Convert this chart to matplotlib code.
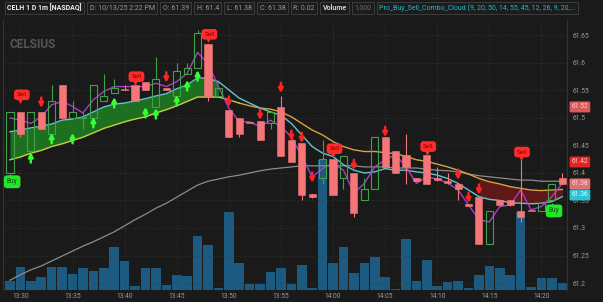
import numpy as np
import matplotlib.pyplot as plt
from matplotlib.patches import Rectangle

plt.rcParams['font.family'] = ['Roboto', 'DejaVu Sans']

# one-minute bars 13:29 .. 14:22
opens = [61.40, 61.51, 61.44, 61.51, 61.47, 61.56, 61.50, 61.50, 61.50, 61.53,
         61.545, 61.55, 61.56, 61.565, 61.52, 61.555, 61.54, 61.58, 61.59, 61.635,
         61.54, 61.515, 61.50, 61.49, 61.495, 61.49, 61.52, 61.46, 61.455, 61.362,
         61.39, 61.425, 61.39, 61.40, 61.35, 61.37, 61.465, 61.44, 61.433, 61.39,
         61.433, 61.39, 61.386, 61.38, 61.343, 61.357, 61.27, 61.35, 61.35, 61.33,
         61.333, 61.33, 61.35, 61.39]
highs = [61.51, 61.51, 61.51, 61.51, 61.56, 61.56, 61.53, 61.51, 61.56, 61.58,
         61.57, 61.56, 61.56, 61.565, 61.61, 61.555, 61.60, 61.60, 61.66, 61.635,
         61.555, 61.515, 61.50, 61.49, 61.495, 61.51, 61.54, 61.46, 61.455, 61.362,
         61.46, 61.425, 61.43, 61.40, 61.39, 61.465, 61.465, 61.44, 61.47, 61.39,
         61.433, 61.41, 61.40, 61.38, 61.343, 61.357, 61.33, 61.35, 61.35, 61.43,
         61.333, 61.345, 61.38, 61.40]
lows = [61.40, 61.465, 61.43, 61.48, 61.46, 61.50, 61.50, 61.48, 61.50, 61.53,
        61.545, 61.55, 61.53, 61.55, 61.52, 61.55, 61.54, 61.58, 61.59, 61.53,
        61.54, 61.465, 61.465, 61.49, 61.46, 61.48, 61.43, 61.42, 61.35, 61.355,
        61.38, 61.36, 61.37, 61.32, 61.35, 61.37, 61.41, 61.40, 61.38, 61.385,
        61.38, 61.385, 61.38, 61.35, 61.34, 61.27, 61.27, 61.34, 61.34, 61.31,
        61.33, 61.33, 61.35, 61.38]
closes = [61.51, 61.47, 61.51, 61.48, 61.53, 61.50, 61.51, 61.502, 61.56, 61.54,
          61.555, 61.55, 61.53, 61.55, 61.57, 61.55, 61.585, 61.59, 61.655, 61.54,
          61.555, 61.465, 61.47, 61.49, 61.46, 61.51, 61.43, 61.42, 61.36, 61.356,
          61.425, 61.36, 61.43, 61.327, 61.37, 61.465, 61.41, 61.40, 61.41, 61.385,
          61.38, 61.388, 61.382, 61.37, 61.34, 61.27, 61.33, 61.342, 61.342, 61.32,
          61.33, 61.345, 61.38, 61.38]
volumes = [1400, 3400, 1400, 2000, 3400, 3400, 2400, 3250, 2850, 3250,
           6500, 4350, 600, 3250, 3250, 750, 2250, 2150, 8150, 6700,
           250, 11650, 4100, 950, 950, 2700, 3250, 850, 3700, 300,
           19500, 4100, 6400, 2500, 4100, 4950, 2000, 200, 7600, 1350,
           4500, 600, 1150, 1350, 350, 2250, 3600, 3300, 2250, 11700,
           500, 1750, 1750, 1000]

fast_line = [61.500, 61.496, 61.490, 61.502, 61.524, 61.530, 61.521, 61.509, 61.533, 61.548,
             61.557, 61.557, 61.557, 61.557, 61.563, 61.557, 61.566, 61.581, 61.619, 61.599,
             61.557, 61.518, 61.493, 61.493, 61.484, 61.496, 61.484, 61.466, 61.430, 61.393,
             61.408, 61.418, 61.405, 61.363, 61.381, 61.411, 61.424, 61.433, 61.411, 61.381,
             61.393, 61.389, 61.382, 61.369, 61.342, 61.315, 61.311, 61.339, 61.342, 61.369,
             61.333, 61.339, 61.357, 61.381]
cyan_line = [61.475, 61.478, 61.482, 61.485, 61.489, 61.496, 61.498, 61.502, 61.511, 61.520,
             61.525, 61.527, 61.531, 61.535, 61.540, 61.544, 61.553, 61.560, 61.573, 61.572,
             61.566, 61.551, 61.536, 61.527, 61.518, 61.511, 61.505, 61.490, 61.469, 61.448,
             61.436, 61.430, 61.415, 61.405, 61.400, 61.402, 61.408, 61.405, 61.405, 61.402,
             61.400, 61.396, 61.390, 61.381, 61.369, 61.357, 61.352, 61.350, 61.346, 61.345,
             61.344, 61.345, 61.348, 61.357]
slow_line = [61.424, 61.429, 61.436, 61.441, 61.448, 61.453, 61.459, 61.465, 61.473, 61.481,
             61.487, 61.493, 61.498, 61.502, 61.509, 61.515, 61.522, 61.530, 61.538, 61.538,
             61.538, 61.533, 61.527, 61.522, 61.518, 61.516, 61.511, 61.502, 61.490, 61.478,
             61.469, 61.457, 61.448, 61.442, 61.439, 61.439, 61.437, 61.435, 61.430, 61.424,
             61.421, 61.416, 61.411, 61.405, 61.398, 61.390, 61.384, 61.380, 61.375, 61.372,
             61.369, 61.368, 61.369, 61.370]
gray_line = [61.205, 61.215, 61.224, 61.231, 61.240, 61.249, 61.258, 61.267, 61.275, 61.284,
             61.293, 61.304, 61.315, 61.325, 61.336, 61.345, 61.356, 61.367, 61.378, 61.385,
             61.389, 61.393, 61.396, 61.400, 61.404, 61.407, 61.409, 61.411, 61.413, 61.413,
             61.413, 61.413, 61.413, 61.413, 61.411, 61.411, 61.411, 61.409, 61.409, 61.409,
             61.407, 61.405, 61.404, 61.402, 61.398, 61.395, 61.393, 61.391, 61.389, 61.387,
             61.387, 61.385, 61.385, 61.385]

up_idx = [2, 4, 6, 8, 10, 13, 14, 16, 17, 18]
up_tip = [61.438, 61.473, 61.473, 61.502, 61.538, 61.520, 61.518, 61.542, 61.569, 61.587]
down_idx = [3, 15, 21, 24, 26, 27, 28, 29, 33, 36, 43, 44, 45]
down_tip = [61.518, 61.564, 61.520, 61.496, 61.545, 61.458, 61.454, 61.382, 61.405, 61.465,
            61.387, 61.345, 61.360]
sell_idx = [1, 12, 19, 31, 40, 49]
sell_y = [61.542, 61.575, 61.652, 61.444, 61.448, 61.438]
buy_idx = [0, 52]
buy_y = [61.384, 61.331]

tick_idx = [1, 6, 11, 16, 21, 26, 31, 36, 41, 46, 51]
tick_labels = ['13:30', '13:35', '13:40', '13:45', '13:50', '13:55',
               '14:00', '14:05', '14:10', '14:15', '14:20']
price_ticks = [61.2, 61.25, 61.3, 61.35, 61.4, 61.45, 61.5, 61.55, 61.6, 61.65]
price_tick_labels = ['61.2', '61.25', '61.3', '61.35', '61.4', '61.45',
                     '61.5', '61.55', '61.6', '61.65']
level_vals = [61.52, 61.42, 61.38, 61.36]
level_colors = ['#d85a5a', '#e42222', '#e07272', '#2bc3d6']
level_text = ['#ffd0d0', '#ffd0d0', '#ffd8d8', '#d8ffff']

header_items = ['CELH 1 D 1m [NASDAQ]', 'D: 10/13/25 2:22 PM', 'O: 61.39', 'H: 61.4',
                'L: 61.38', 'C: 61.38', 'R: 0.02', 'Volume', '1,000',
                'Pro_Buy_Sell_Combo_Cloud (9, 20, 50, 14, 55, 45, 12, 26, 9, 20,...']
header_colors = ['#f2f2f2', '#9a9a9a', '#9a9a9a', '#9a9a9a', '#9a9a9a', '#9a9a9a',
                 '#9a9a9a', '#d0d0d0', '#6a6a6a', '#22b8c8']
header_weights = ['bold', 'normal', 'normal', 'normal', 'normal', 'normal', 'normal',
                  'bold', 'normal', 'normal']

bg = '#1a1a1a'
green = '#3fa24a'
pink = '#f47678'
x = np.arange(len(opens))

fig = plt.figure(figsize=(6.03, 3.02), dpi=100)
fig.patch.set_facecolor(bg)
ax = fig.add_axes([3 / 603, 12 / 302, 564 / 603, 270 / 302])
axv = ax.twinx()
axv.set_zorder(0)
ax.set_zorder(1)
ax.patch.set_visible(False)
axv.patch.set_visible(False)

# volume underneath
axv.bar(x, volumes, width=0.92, color='#1d5a80', linewidth=0)
axv.set_ylim(0, 40500)
axv.set_yticks([])
for s in axv.spines.values():
    s.set_visible(False)

# clouds
xs = x.astype(float)
ax.fill_between(xs[:21], cyan_line[:21], slow_line[:21], color='#1f7a22', alpha=0.9, lw=0)
ax.fill_between(xs[45:], cyan_line[45:], slow_line[45:], color='#621818', alpha=0.95, lw=0)

ax.plot(x, gray_line, color='#8c8c8c', lw=0.9)
ax.plot(x[:23], slow_line[:23], color='#c6cc3e', lw=1.0)
ax.plot(x[22:], slow_line[22:], color='#d9a33e', lw=1.0)
ax.plot(x, cyan_line, color='#62c4cc', lw=1.0)
ax.plot(x, fast_line, color='#ab3cc8', lw=1.0)

# candles
w = 0.68
for i in x:
    o, h, l, c = opens[i], highs[i], lows[i], closes[i]
    if c > o:
        ax.vlines(i, c, h, color=green, lw=0.8, zorder=4)
        ax.vlines(i, l, o, color=green, lw=0.8, zorder=4)
        ax.add_patch(Rectangle((i - w / 2, o), w, c - o, fill=False, ec=green, lw=0.8, zorder=4))
    else:
        ax.vlines(i, l, h, color=pink, lw=0.8, zorder=4)
        ax.add_patch(Rectangle((i - w / 2, c), w, max(o - c, 0.0018), fc=pink, ec=pink,
                               lw=0.4, zorder=4))

for i, t in zip(up_idx, up_tip):
    ax.annotate('', xy=(i, t), xytext=(i, t - 0.019),
                arrowprops=dict(arrowstyle='-|>', color='#33ff33', lw=1.8,
                                mutation_scale=6.5, shrinkA=0, shrinkB=0), zorder=5)
for i, t in zip(down_idx, down_tip):
    ax.annotate('', xy=(i, t), xytext=(i, t + 0.019),
                arrowprops=dict(arrowstyle='-|>', color='#ff2222', lw=1.8,
                                mutation_scale=6.5, shrinkA=0, shrinkB=0), zorder=5)

for i, yv in zip(sell_idx, sell_y):
    ax.plot(i, yv - 0.011, marker='v', ms=3.5, color='#ff2a2a', mec='none', zorder=6)
    ax.text(i - 0.35, yv, 'Sell', ha='left', va='center', fontsize=4.5, color='#7a0000', zorder=7,
            bbox=dict(boxstyle='round,pad=0.45,rounding_size=0.5', fc='#ff2a2a', ec='none'))
for i, yv in zip(buy_idx, buy_y):
    ax.plot(i, yv + 0.011, marker='^', ms=3.5, color='#22e62a', mec='none', zorder=6)
    ax.text(i - 0.3, yv, 'Buy', ha='left', va='center', fontsize=4.7, color='#0b5010', zorder=7,
            bbox=dict(boxstyle='round,pad=0.45,rounding_size=0.5', fc='#22e62a', ec='none'))

ax.set_xlim(-0.67, 53.45)
ax.set_ylim(61.1873, 61.678)
ax.set_xticks(tick_idx)
ax.set_xticklabels(tick_labels)
ax.set_yticks(price_ticks)
ax.set_yticklabels(price_tick_labels)
ax.yaxis.tick_right()
ax.tick_params(axis='both', length=0, labelsize=4.8, colors='#9a9a9a')
ax.tick_params(axis='x', pad=2.5)
ax.tick_params(axis='y', pad=4)
ax.grid(True, color='#3a3a3a', ls=(0, (1, 2.5)), lw=0.6)
ax.set_axisbelow(True)
for k, s in ax.spines.items():
    s.set_visible(k in ('left', 'right'))
    s.set_color('#333333')
    s.set_linewidth(0.8)

tr = ax.get_yaxis_transform()
for v, fc, tc in zip(level_vals, level_colors, level_text):
    ax.text(1.008, v, '%.2f' % v, transform=tr, ha='left', va='center', fontsize=4.8,
            color=tc, zorder=8, clip_on=False,
            bbox=dict(boxstyle='round,pad=0.3,rounding_size=0.2', fc=fc, ec='none'))

# watermark
fig.text(10 / 603, 1 - 45 / 302, 'CELSIUS', fontsize=8.6, fontweight='bold', color='#555555',
         ha='left', va='center')

# header strip: boxes laid out one after another
renderer = fig.canvas.get_renderer()
hy = 1 - 8 / 302
fs = 5.0
pad_px = 0.35 * fs * 100 / 72
px = 5 + pad_px
for t, c, fw in zip(header_items, header_colors, header_weights):
    txt = fig.text(px / 603, hy, t, fontsize=fs, color=c, fontweight=fw, ha='left', va='center',
                   bbox=dict(boxstyle='square,pad=0.35', fc='#1c1c1c', ec='#4a4a4a', lw=0.5))
    ext = txt.get_window_extent(renderer)
    px = ext.x1 + 2 * pad_px + 3

fig.savefig('out.png', dpi=100, facecolor=bg)
